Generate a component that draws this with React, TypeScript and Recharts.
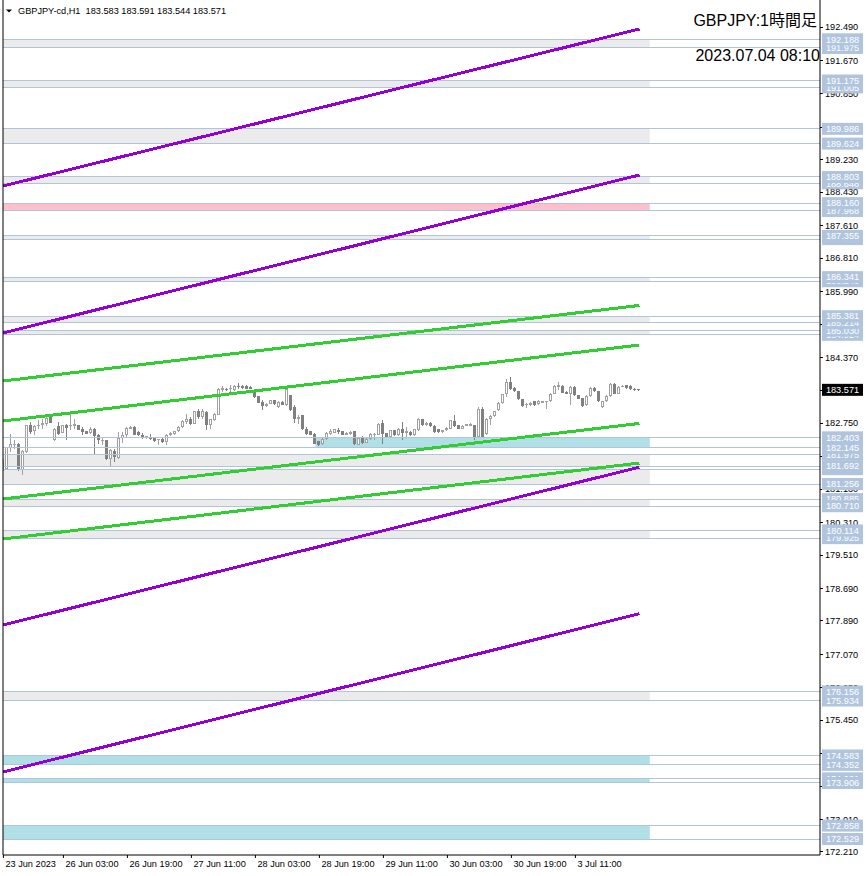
import React from "react";
import { ComposedChart, Bar, XAxis, YAxis, ReferenceArea, ReferenceLine } from "recharts";

// GBPJPY H1 candles, oldest first (23 Jun 12:00 .. 4 Jul 03:00 server time)
const OPEN = [
  181.58, 181.633, 182.141, 182.206, 182.247, 181.592, 182.042, 182.698, 182.55, 182.673,
  182.698, 182.723, 182.903, 182.329, 182.673, 182.518, 182.714, 182.673, 182.682, 182.698,
  182.616, 182.559, 182.518, 182.616, 182.469, 182.313, 182.329, 181.879, 182.067, 181.895,
  182.387, 182.452, 182.616, 182.657, 182.534, 182.469, 182.395, 182.387, 182.387, 182.329,
  182.37, 182.288, 182.452, 182.485, 182.55, 182.657, 182.78, 182.862, 182.739, 183.042,
  182.903, 183.026, 182.698, 182.821, 182.96, 183.558, 183.599, 183.583, 183.558, 183.665,
  183.665, 183.665, 183.648, 183.558, 183.419, 183.272, 183.173, 183.231, 183.313, 183.149,
  183.272, 183.19, 183.435, 183.149, 182.845, 182.944, 182.616, 182.55, 182.493, 182.305,
  182.247, 182.37, 182.493, 182.518, 182.583, 182.55, 182.469, 182.485, 182.55, 182.223,
  182.387, 182.272, 182.37, 182.452, 182.469, 182.763, 182.509, 182.411, 182.575, 182.452,
  182.616, 182.518, 182.534, 182.452, 182.575, 182.845, 182.698, 182.763, 182.682, 182.6,
  182.534, 182.575, 182.616, 182.796, 182.698, 182.616, 182.682, 182.682, 182.698, 182.411,
  183.108, 182.493, 182.845, 182.919, 183.067, 183.247, 183.476, 183.763, 183.616, 183.534,
  183.337, 183.19, 183.206, 183.288, 183.214, 183.255, 183.272, 183.288, 183.476, 183.648,
  183.665, 183.517, 183.476, 183.64, 183.435, 183.37, 183.19, 183.419, 183.616, 183.534,
  183.149, 183.288, 183.419, 183.714, 183.476, 183.64, 183.681, 183.665, 183.599, 183.583,
];
const HIGH = [
  181.92, 182.17, 182.493, 182.329, 182.26, 182.08, 182.71, 182.78, 182.698, 182.821,
  182.862, 182.944, 182.93, 182.63, 182.78, 182.71, 182.73, 183.042, 182.862, 182.71,
  182.657, 182.57, 182.657, 182.63, 182.48, 182.411, 182.34, 182.124, 182.124, 182.534,
  182.534, 182.657, 182.67, 182.67, 182.55, 182.509, 182.44, 182.485, 182.4, 182.37,
  182.38, 182.493, 182.53, 182.57, 182.67, 182.82, 182.985, 182.903, 183.06, 183.108,
  183.091, 183.04, 182.86, 183.0, 183.62, 183.665, 183.62, 183.681, 183.68, 183.747,
  183.68, 183.68, 183.67, 183.57, 183.43, 183.313, 183.24, 183.33, 183.33, 183.29,
  183.29, 183.64, 183.45, 183.19, 182.944, 182.96, 182.657, 182.56, 182.51, 182.32,
  182.411, 182.534, 182.616, 182.62, 182.632, 182.56, 182.53, 182.55, 182.56, 182.4,
  182.436, 182.39, 182.51, 182.51, 182.75, 182.821, 182.52, 182.59, 182.59, 182.63,
  182.78, 182.657, 182.55, 182.62, 182.88, 182.86, 182.78, 182.78, 182.7, 182.61,
  182.59, 182.65, 182.84, 182.944, 182.71, 182.7, 182.74, 182.75, 182.71, 183.149,
  183.149, 182.88, 182.94, 183.06, 183.26, 183.48, 183.829, 183.886, 183.63, 183.55,
  183.35, 183.25, 183.26, 183.3, 183.32, 183.3, 183.3, 183.49, 183.68, 183.763,
  183.68, 183.53, 183.66, 183.66, 183.45, 183.38, 183.44, 183.63, 183.63, 183.55,
  183.3, 183.44, 183.73, 183.73, 183.66, 183.68, 183.7, 183.68, 183.61, 183.591,
];
const LOW = [
  181.55, 181.59, 182.042, 182.108, 181.567, 181.485, 182.03, 182.493, 182.469, 182.616,
  182.616, 182.682, 182.75, 182.32, 182.452, 182.5, 182.329, 182.575, 182.616, 182.58,
  182.452, 182.48, 182.477, 182.001, 182.247, 182.206, 181.838, 181.698, 181.797, 181.862,
  182.272, 182.387, 182.6, 182.45, 182.44, 182.37, 182.354, 182.329, 182.29, 182.223,
  182.27, 182.223, 182.44, 182.47, 182.54, 182.64, 182.739, 182.698, 182.72, 182.862,
  182.862, 182.575, 182.616, 182.8, 182.94, 183.517, 183.54, 183.517, 183.54, 183.599,
  183.6, 183.58, 183.58, 183.38, 183.24, 183.067, 183.16, 183.22, 183.21, 183.13,
  183.19, 183.17, 183.05, 182.763, 182.739, 182.58, 182.452, 182.45, 182.23, 182.2,
  182.223, 182.329, 182.452, 182.5, 182.493, 182.45, 182.45, 182.47, 182.206, 182.21,
  182.247, 182.26, 182.35, 182.329, 182.45, 182.247, 182.4, 182.4, 182.44, 182.44,
  182.329, 182.411, 182.44, 182.44, 182.56, 182.68, 182.68, 182.66, 182.52, 182.52,
  182.52, 182.56, 182.6, 182.657, 182.6, 182.6, 182.67, 182.67, 182.33, 182.4,
  182.395, 182.452, 182.7, 182.9, 183.05, 183.23, 183.394, 183.558, 183.52, 183.32,
  183.15, 183.13, 183.18, 183.17, 183.2, 183.24, 183.091, 183.27, 183.46, 183.558,
  183.49, 183.46, 183.206, 183.42, 183.34, 183.16, 183.17, 183.4, 183.52, 183.27,
  183.13, 183.27, 183.4, 183.46, 183.46, 183.63, 183.6, 183.57, 183.54, 183.544,
];
const CLOSE = [
  181.88, 182.165, 182.247, 182.247, 181.633, 182.067, 182.698, 182.534, 182.673, 182.714,
  182.763, 182.886, 182.763, 182.616, 182.493, 182.698, 182.632, 182.714, 182.739, 182.591,
  182.534, 182.493, 182.616, 182.436, 182.329, 182.346, 181.879, 182.083, 181.919, 182.387,
  182.452, 182.632, 182.657, 182.469, 182.452, 182.411, 182.428, 182.354, 182.305, 182.354,
  182.288, 182.452, 182.518, 182.55, 182.657, 182.804, 182.862, 182.739, 183.042, 182.903,
  183.042, 182.698, 182.845, 182.985, 183.599, 183.616, 183.558, 183.616, 183.665, 183.64,
  183.624, 183.599, 183.599, 183.394, 183.255, 183.173, 183.222, 183.313, 183.231, 183.272,
  183.206, 183.599, 183.067, 182.862, 182.903, 182.6, 182.493, 182.469, 182.247, 182.223,
  182.37, 182.509, 182.55, 182.6, 182.534, 182.469, 182.518, 182.534, 182.247, 182.387,
  182.272, 182.37, 182.493, 182.493, 182.739, 182.493, 182.411, 182.575, 182.452, 182.616,
  182.518, 182.55, 182.452, 182.6, 182.862, 182.698, 182.763, 182.682, 182.534, 182.534,
  182.575, 182.632, 182.821, 182.673, 182.616, 182.682, 182.723, 182.723, 182.411, 183.108,
  182.411, 182.862, 182.927, 183.042, 183.247, 183.46, 183.763, 183.599, 183.534, 183.337,
  183.173, 183.231, 183.239, 183.19, 183.304, 183.288, 183.288, 183.476, 183.665, 183.681,
  183.501, 183.476, 183.64, 183.435, 183.353, 183.173, 183.419, 183.616, 183.534, 183.288,
  183.288, 183.419, 183.714, 183.476, 183.64, 183.665, 183.616, 183.583, 183.558, 183.571,
];

const TIME_TICKS = [0, 15, 31, 47, 63, 79, 95, 111, 127, 143];
const TIME_LABELS = [
  "23 Jun 2023", "26 Jun 03:00", "26 Jun 19:00", "27 Jun 11:00", "28 Jun 03:00",
  "28 Jun 19:00", "29 Jun 11:00", "30 Jun 03:00", "30 Jun 19:00", "3 Jul 11:00",
];

const PRICE_TICKS = [
  192.49, 191.67, 190.85, 190.03, 189.23, 188.43, 187.61, 186.81, 185.99, 185.17,
  184.37, 183.55, 182.75, 181.93, 181.13, 180.31, 179.51, 178.69, 177.89, 177.07,
  176.25, 175.45, 174.63, 173.83, 173.01, 172.21,
];

// support / resistance zones (rectangles between two horizontal lines)
const ZONE_TOP = [192.188, 191.175, 189.986, 188.803, 188.16, 187.355, 186.341, 185.381, 185.03,
  182.403, 181.975, 181.62, 180.885, 180.114, 176.156, 174.583, 174.021, 172.858];
const ZONE_BOTTOM = [191.975, 191.005, 189.624, 188.648, 187.968, 187.277, 186.24, 185.214, 184.924,
  182.145, 181.692, 181.256, 180.71, 179.925, 175.934, 174.352, 173.906, 172.529];
const ZONE_KIND = ["g", "g", "g", "g", "p", "g", "g", "g", "g",
  "b", "g", "g", "g", "g", "g", "b", "b", "b"];
const ZONE_START = [-0.1, -0.1, -0.1, -0.1, -0.1, -0.1, -0.1, -0.1, -0.1,
  78, -0.1, -0.1, -0.1, -0.1, -0.1, -0.1, -0.1, -0.1];
const ZONE_END = 161.6;

// horizontal lines, in the order the platform draws their price tags
const LEVELS = [172.529, 172.858, 174.021, 173.906, 174.352, 174.583, 175.934, 176.156,
  179.925, 180.114, 180.885, 180.71, 181.256, 181.62, 181.692, 181.975, 182.145, 182.403,
  184.924, 185.03, 185.214, 185.381, 186.24, 186.341, 187.277, 187.355, 187.968, 188.16,
  188.648, 188.803, 189.624, 189.986, 191.005, 191.175, 191.975, 192.188];

// trend lines: price at the left edge and at the last bar
const TREND_FROM = -0.1;
const TREND_TO = 159;
const GREEN_START = [183.788, 182.805, 180.887, 179.904];
const GREEN_END = [185.646, 184.673, 182.745, 181.772];
const PURPLE_START = [188.581, 184.968, 177.79, 174.176];
const PURPLE_END = [192.441, 188.852, 181.67, 178.068];

const LAST_PRICE = 183.571;

const X_MIN = -0.1;
const X_MAX = 204.15;
const Y_MIN = 172.136;
const Y_MAX = 193.154;

const FONT = "'Liberation Sans', Arial, sans-serif";
const UP = "#a0a0a0";
const DOWN = "#808080";
const TAG = "#b0c4de";
const FILLS: Record<string, string> = { g: "#ebebeb", p: "#ffc0cb", b: "#b0e0e6" };
const GREEN = "#32cd32";
const PURPLE = "#9400d3";

const candles = OPEN.map((o, i) => ({
  i,
  o,
  h: HIGH[i],
  l: LOW[i],
  c: CLOSE[i],
  range: [LOW[i], HIGH[i]],
}));

// axis ticks first, then the line tags on top of them, then the last price
const AXIS_TICKS = [...PRICE_TICKS, ...LEVELS, LAST_PRICE];

function Candle(props: any) {
  const { x, y, width, height, payload } = props;
  if (x == null || y == null || !payload) return null;
  const col = Math.floor(x + width / 2);
  const top = Math.min(y, y + height);
  const bottom = Math.max(y, y + height);
  const { o, h, l, c } = payload;
  const k = h === l ? 0 : (bottom - top) / (h - l);
  const bTop = Math.round(top + (h - Math.max(o, c)) * k);
  let bBot = Math.round(top + (h - Math.min(o, c)) * k);
  if (bBot - bTop < 1) bBot = bTop + 1;
  const up = c >= o;
  const color = up ? UP : DOWN;
  return (
    <g shapeRendering="crispEdges">
      <rect x={col} y={Math.round(top)} width={1} height={Math.max(1, Math.round(bottom) - Math.round(top))} fill={color} />
      <rect x={col - 1} y={bTop} width={3} height={bBot - bTop} fill={color} />
      {up && bBot - bTop > 2 && (
        <rect x={col} y={bTop + 1} width={1} height={bBot - bTop - 2} fill="#ffffff" />
      )}
    </g>
  );
}

function PriceTick({ x, y, payload }: any) {
  const v = payload.value;
  const axisX = x - 5;
  const text = Number(v).toFixed(3);
  if (v === LAST_PRICE || LEVELS.includes(v)) {
    const bg = v === LAST_PRICE ? "#000" : TAG;
    return (
      <g>
        <rect x={axisX + 2} y={y - 6} width={41} height={12} fill={bg} />
        <text x={axisX + 22.5} y={y} dy="0.35em" textAnchor="middle" fontSize={9.2} fontFamily={FONT} fill="#ffffff">
          {text}
        </text>
      </g>
    );
  }
  return (
    <g>
      <line x1={axisX} x2={axisX + 3} y1={y} y2={y} stroke="#000" shapeRendering="crispEdges" />
      <text x={x} y={y} dy="0.35em" textAnchor="start" fontSize={9.2} fontFamily={FONT} fill="#000">
        {text}
      </text>
    </g>
  );
}

function TimeTick({ x, y, payload }: any) {
  const k = TIME_TICKS.indexOf(payload.value);
  return (
    <text x={x + 2} y={y} dy="0.71em" fontSize={9.2} fontFamily={FONT} fill="#000">
      {TIME_LABELS[k]}
    </text>
  );
}

export default function App() {
  return (
    <div style={{ position: "absolute", left: 0, top: 0, width: 866, height: 876, background: "#fff" }}>
      <ComposedChart width={866} height={876} data={candles} margin={{ top: 0, right: 0, bottom: 0, left: 0 }}>
        <XAxis
          xAxisId="t"
          type="number"
          dataKey="i"
          domain={[X_MIN, X_MAX]}
          allowDataOverflow
          ticks={TIME_TICKS}
          interval={0}
          height={21}
          tickSize={3}
          axisLine={{ stroke: "#000" }}
          tickLine={{ stroke: "#000" }}
          tick={<TimeTick />}
        />
        <YAxis yAxisId="frame" orientation="left" width={3} domain={[Y_MIN, Y_MAX]} tick={false} tickLine={false} axisLine={{ stroke: "#000" }} />
        <YAxis
          yAxisId="p"
          orientation="right"
          type="number"
          width={46}
          domain={[Y_MIN, Y_MAX]}
          allowDataOverflow
          ticks={AXIS_TICKS}
          interval={0}
          tickSize={3}
          tickMargin={2}
          axisLine={{ stroke: "#000" }}
          tickLine={false}
          tick={<PriceTick />}
        />

        {ZONE_TOP.map((t, k) => (
          <ReferenceArea
            key={"z" + k}
            xAxisId="t"
            yAxisId="p"
            x1={ZONE_START[k]}
            x2={ZONE_END}
            y1={ZONE_BOTTOM[k]}
            y2={t}
            fill={FILLS[ZONE_KIND[k]]}
            fillOpacity={1}
            stroke="none"
          />
        ))}

        {LEVELS.map((v) => (
          <ReferenceLine
            key={"l" + v}
            xAxisId="t"
            yAxisId="p"
            y={v}
            stroke={TAG}
            strokeWidth={1}
            shapeRendering="crispEdges"
          />
        ))}

        <Bar xAxisId="t" yAxisId="p" dataKey="range" barSize={3} shape={<Candle />} isAnimationActive={false} />

        {GREEN_START.map((s, k) => (
          <ReferenceLine
            key={"g" + k}
            xAxisId="t"
            yAxisId="p"
            segment={[{ x: TREND_FROM, y: s }, { x: TREND_TO, y: GREEN_END[k] }]}
            stroke={GREEN}
            strokeWidth={3}
            shapeRendering="crispEdges"
          />
        ))}
        {PURPLE_START.map((s, k) => (
          <ReferenceLine
            key={"p" + k}
            xAxisId="t"
            yAxisId="p"
            segment={[{ x: TREND_FROM, y: s }, { x: TREND_TO, y: PURPLE_END[k] }]}
            stroke={PURPLE}
            strokeWidth={3}
            shapeRendering="crispEdges"
          />
        ))}
      </ComposedChart>

      <svg width={866} height={876} style={{ position: "absolute", left: 0, top: 0, pointerEvents: "none" }}>
        <polygon points="6,9.5 12,9.5 9,12.5" fill="#000" />
        <text x={18} y={14} fontSize={9.2} fontFamily={FONT} fill="#000" style={{ whiteSpace: "pre" }}>
          {"GBPJPY-cd,H1  183.583 183.591 183.544 183.571"}
        </text>
        <text x={817} y={26} textAnchor="end" fontSize={16} fontFamily={FONT + ", 'Noto Sans CJK JP'"} fill="#000">
          GBPJPY:1時間足
        </text>
        <text x={820} y={61} textAnchor="end" fontSize={16} fontFamily={FONT} fill="#000">
          2023.07.04 08:10
        </text>
      </svg>
    </div>
  );
}
